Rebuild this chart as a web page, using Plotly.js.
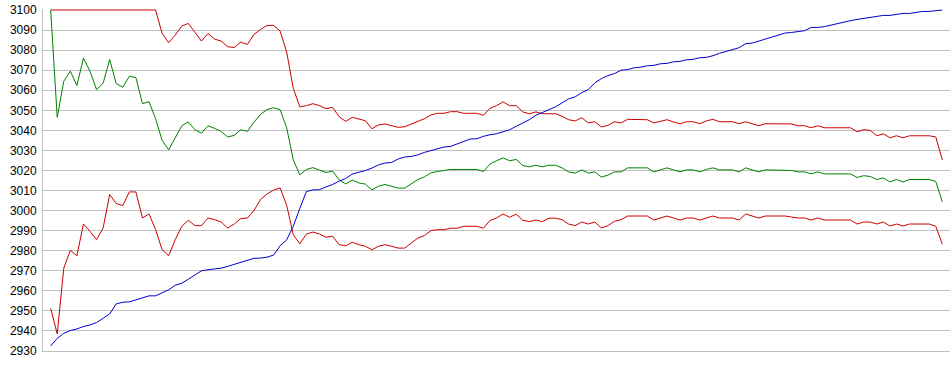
<!DOCTYPE html>
<html>
<head>
<meta charset="utf-8">
<script src="https://cdn.plot.ly/plotly-3.0.1.min.js"></script>
<style>html,body{margin:0;padding:0;background:#fff;}#chart{width:950px;height:375px;}</style>
</head>
<body>
<div id="chart"></div>
<script>
const upperBand = [3100,3100,3100,3100,3100,3100,3100,3100,3100,3100,3100,3100,3100,3100,3100,3100,3100,
3088.3,3083.7,3087.5,3092,3093.3,3089,3084.5,3088.3,3085.5,3084.5,3081.7,3081.3,3084,3082.8,3087.8,3090.3,3092.3,3092.3,3089.5,3079,3061,3051.7,3052.3,
3053.3,3052.3,3050.8,3051.5,3046.8,3044.5,3046.5,3045.5,3044.8,3040.8,3042.7,3043.2,3042.2,3041.5,3041.8,3043.2,3044.8,3045.8,3047.7,3048.5,
3048.5,3049.3,3049.3,3048.5,3048.5,3048.5,3047.5,3051,3052.3,3054.2,3052.3,3052.3,3049.2,3048.3,3049.2,3048.3,3048.3,3048.3,3047,3045.3,
3044.7,3046.3,3043.7,3044.3,3041.7,3042.5,3044.3,3043.7,3045.5,3045.5,3045.5,3045.3,3043.7,3044.5,3045.3,3044.2,3043.3,3044.3,3044.3,3043.3,
3044.7,3045.5,3044.3,3044.3,3044.3,3043.3,3044.3,3043.3,3042.3,3043.3,3043.3,3043.3,3043.3,3043.2,3042.3,3042.3,3041.3,3042.3,3041.3,3041.3,
3041.3,3041.3,3041.3,3039.3,3040.3,3040,3037.3,3038.3,3036.3,3037.3,3036.3,3037.3,3037.3,3037.3,3037.3,3036.7,3025.3];

const middleLine = [3100,3046.5,3064.5,3069.5,3062.3,3076,3069.5,3060.3,3063.5,3075.3,3063.3,3061.5,3067,3066.3,3053.3,3054.3,3045.8,
3035,3030.3,3036.5,3042.3,3044.2,3040.3,3038.6,3042.3,3041,3039.5,3036.7,3037.5,3040.3,3039.5,3044,3048,3050.3,3051.3,3050.3,3041.2,3025.4,3017.8,3020.5,
3021.4,3020.2,3019,3019.7,3015.3,3013.3,3015.2,3013.8,3013.2,3010.3,3012.2,3013,3012,3011.2,3011.2,3013.2,3015.5,3016.8,3018.8,3019.5,
3020,3020.5,3020.5,3020.5,3020.5,3020.5,3019.5,3023.2,3024.8,3026.3,3024.8,3025.5,3022.5,3021.8,3022.6,3021.8,3022.6,3022.6,3021.3,3019.3,
3018.7,3020.3,3018.7,3019.3,3016.7,3017.7,3019.3,3019.3,3021.3,3021.3,3021.3,3021.3,3019.3,3020.3,3021.3,3020.3,3019.3,3020.3,3020.3,3019.3,
3020.5,3021.3,3020.3,3020.3,3020.3,3019.3,3021.3,3020.3,3019.3,3020.3,3020.3,3020.3,3020.3,3020,3019.3,3019.3,3018.3,3019.3,3018.3,3018.3,
3018.3,3018.3,3018.3,3016.5,3017.4,3017,3015.5,3016.3,3014.3,3015.5,3014.3,3015.5,3015.5,3015.5,3015.5,3014.5,3004.3];

const lowerBand = [2951.3,2938.5,2971.3,2980.2,2977.5,2993.3,2989.7,2985.5,2991.3,3008,3003.5,3002.5,3009.3,3009.3,2996.3,2998.3,2990.5,
2980.5,2977.5,2985.5,2992.2,2995.2,2992.5,2992.5,2996.3,2995.5,2994.3,2991.3,2993.3,2996,2996.3,3000,3005.5,3008.3,3010.2,3011.3,3002.6,2988,2983.5,2988.3,
2989.3,2988.3,2986.7,2987.2,2983,2982.4,2984.2,2983,2982.2,2980.5,2982.2,2983,2982.2,2981.3,2981.3,2983.8,2986.3,2987.5,2990,2990.5,
2990.5,2991.2,2991.2,2992.2,2992.2,2992.2,2991.2,2995,2996.3,2998.3,2996.7,2998.2,2995.2,2994.5,2995.3,2994.5,2996.2,2996.2,2995.5,2993.3,
2992.5,2994.3,2993.3,2994.3,2991.3,2992.5,2994.7,2995.5,2997.3,2997.3,2997.3,2997.3,2995.3,2996.3,2997.3,2996.3,2995.3,2996.3,2996.3,2995.3,
2996.3,2997.3,2996.3,2996.3,2996.3,2995.3,2998.3,2997.3,2996.3,2997.3,2997.3,2997.3,2997.3,2996.8,2996.3,2996.3,2995.3,2996.3,2995.3,2995.3,
2995.3,2995.3,2995.3,2993.3,2994.3,2994.3,2993.3,2994.3,2992.3,2993.3,2992.3,2993.3,2993.3,2993.3,2993.3,2992.2,2983.2];

const priceLine = [2932.5,2936.3,2938.8,2940.2,2941,2942.2,2943,2944.2,2946.3,2948.5,2953.5,2954.3,2954.5,2955.5,2956.7,2957.5,2957.5,
2959.2,2960.5,2962.8,2963.8,2965.8,2968,2970,2970.5,2971,2971.3,2972.2,2973.2,2974.2,2975.2,2976.2,2976.3,2976.8,2977.8,2982.5,2985.4,2992.2,3001,3009.5,
3010.3,3010.4,3011.8,3013,3014.7,3016,3018.2,3019,3020,3021.2,3022.8,3023.7,3024,3025.7,3026.7,3027,3027.8,3029,3030,3030.8,
3031.7,3032,3033.3,3034.7,3035.7,3035.8,3037,3037.8,3038.3,3039.3,3040.3,3042,3043.7,3045.3,3047.5,3048.7,3050.3,3051.7,3053.7,3055.7,
3056.7,3058.8,3060.3,3063.7,3065.8,3067.3,3068.3,3070,3070.3,3071.2,3071.5,3072.2,3072.4,3073.2,3073.4,3074.2,3074.4,3075.2,3075.4,3076.2,
3076.4,3077.2,3078.4,3079.4,3080.4,3081.2,3083.2,3083.5,3084.5,3085.5,3086.5,3087.7,3088.5,3088.8,3089.3,3089.7,3091.3,3091.3,3091.7,3092.5,
3093.3,3094.2,3094.7,3095.3,3095.8,3096.3,3096.7,3097.3,3097.3,3097.7,3098.3,3098.3,3098.7,3099.3,3099.3,3099.7,3100];

const yTicks = [2930,2940,2950,2960,2970,2980,2990,3000,3010,3020,3030,3040,3050,3060,3070,3080,3090,3100];

const idx = priceLine.map((_, i) => i);
function line(y, color) {
  return {x: idx, y: y, type: 'scatter', mode: 'lines', line: {color: color, width: 1}, hoverinfo: 'skip'};
}
const data = [
  line(upperBand, '#cc0000'),
  line(lowerBand, '#cc0000'),
  line(middleLine, '#008000'),
  line(priceLine, '#0000cc')
];
const layout = {
  width: 950, height: 375,
  margin: {l: 43, r: 0, t: 9, b: 24},
  paper_bgcolor: '#ffffff', plot_bgcolor: '#ffffff',
  showlegend: false,
  font: {family: 'Liberation Sans, Arial, sans-serif', size: 12, color: '#000'},
  xaxis: {range: [-1.17, 137.17], showgrid: false, zeroline: false, showticklabels: false,
          showline: true, linecolor: '#c0c0c0', linewidth: 1, ticks: ''},
  yaxis: {range: [2930, 3100.5], tickvals: yTicks, ticktext: yTicks.map(String),
          showgrid: true, gridcolor: '#c0c0c0', gridwidth: 1, zeroline: false,
          showline: true, linecolor: '#c0c0c0', linewidth: 1, ticks: '',
          ticklabelstandoff: 3,
          tickfont: {family: 'Liberation Sans, Arial, sans-serif', size: 12, color: '#000'}}
};
Plotly.newPlot('chart', data, layout, {staticPlot: true, displayModeBar: false});
</script>
</body>
</html>
